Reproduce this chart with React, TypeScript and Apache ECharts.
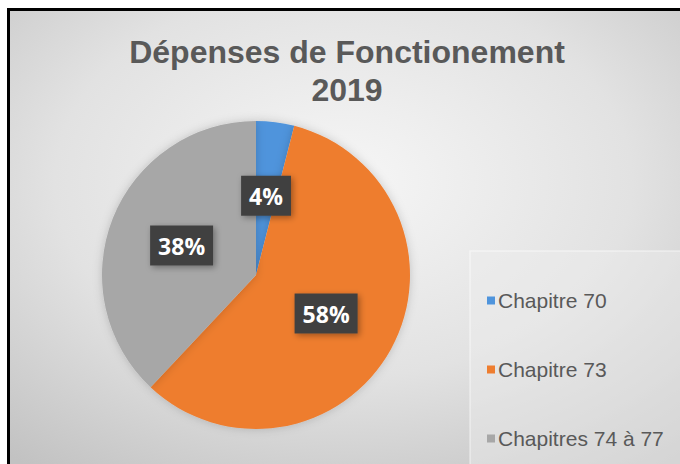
import React, { useEffect, useRef } from "react";
import * as echarts from "echarts";

const categories = ["Chapitre 70", "Chapitre 73", "Chapitres 74 à 77"];
const values = [4, 58, 38];
const colors = ["#4f94dc", "#ee7d2f", "#a7a7a7"];
const titleText = "Dépenses de Fonctionement\n2019";

export default function App() {
  const ref = useRef<HTMLDivElement>(null);
  useEffect(() => {
    if (!ref.current) return;
    const chart = echarts.init(ref.current, undefined, { renderer: "svg" });
    chart.setOption({
      animation: false,
      backgroundColor: "#ffffff",
      graphic: [
        {
          type: "rect",
          z: -10,
          shape: { x: 7, y: 8, width: 673, height: 456 },
          style: {
            fill: new echarts.graphic.RadialGradient(0.5, 0.38, 0.78, [
              { offset: 0, color: "#f6f6f6" },
              { offset: 0.55, color: "#e2e2e2" },
              { offset: 1, color: "#c2c2c2" },
            ]),
          },
        },
        {
          type: "rect",
          z: -5,
          shape: { x: 470, y: 251, width: 215, height: 220 },
          style: {
            fill: "rgba(238,238,238,0.45)",
            stroke: "rgba(255,255,255,0.45)",
            lineWidth: 1.5,
          },
        },
        { type: "rect", z: 10, shape: { x: 7, y: 8, width: 673, height: 3 }, style: { fill: "#000" } },
        { type: "rect", z: 10, shape: { x: 7, y: 8, width: 3, height: 456 }, style: { fill: "#000" } },
      ],
      title: {
        text: titleText,
        left: 342,
        textAlign: "center",
        top: 28,
        textStyle: {
          fontFamily: "Liberation Sans, Arial, sans-serif",
          fontSize: 32,
          fontWeight: "bold",
          color: "#595959",
          lineHeight: 38,
        },
      },
      legend: {
        orient: "vertical",
        left: 482,
        top: 285,
        itemWidth: 8,
        itemHeight: 8,
        itemGap: 48,
        icon: "rect",
        data: categories,
        textStyle: {
          fontFamily: "Liberation Sans, Arial, sans-serif",
          fontSize: 21,
          lineHeight: 20,
          color: "#595959",
          padding: [0, 0, 0, -2],
        },
      },
      series: [
        {
          type: "pie",
          center: [256, 275],
          radius: 154,
          startAngle: 90,
          clockwise: true,
          avoidLabelOverlap: false,
          itemStyle: {
            borderWidth: 0,
            shadowBlur: 10,
            shadowColor: "rgba(0,0,0,0.18)",
          },
          label: {
            show: true,
            position: "inside",
            formatter: "{d}%",
            fontFamily: "Open Sans, sans-serif",
            fontWeight: "bold",
            fontSize: 23,
            lineHeight: 24,
            color: "#ffffff",
            backgroundColor: "#404040",
            padding: [8, 8],
            shadowBlur: 6,
            shadowColor: "rgba(0,0,0,0.35)",
            shadowOffsetX: 2,
            shadowOffsetY: 2,
          },
          labelLine: { show: false },
          data: categories.map((name, i) => ({
            name,
            value: values[i],
            itemStyle: { color: colors[i] },
          })),
        },
      ],
    });
    return () => chart.dispose();
  }, []);
  return (
    <div
      ref={ref}
      style={{ position: "fixed", left: 0, top: 0, width: 680, height: 464 }}
    />
  );
}
